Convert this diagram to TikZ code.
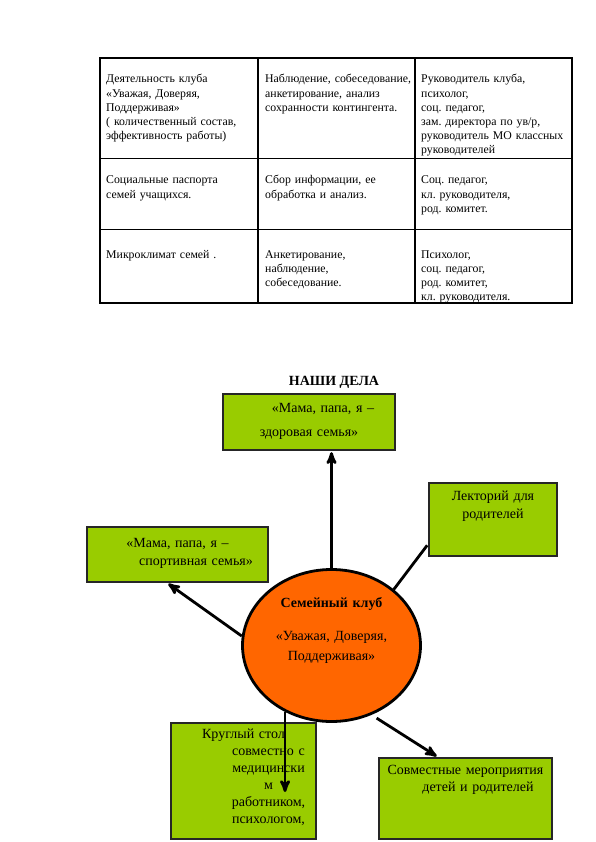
\documentclass[tikz,border=0pt]{standalone}
\usepackage{fontspec}
\setmainfont{Liberation Serif}
\usetikzlibrary{arrows, shapes, positioning}
\definecolor{clubgreen}{HTML}{99CC00}
\definecolor{cluborange}{HTML}{FF6600}
\frenchspacing
\tikzset{
		cell/.style={anchor=base west, inner sep=0pt, text width=150pt, align=left,
			font=\fontsize{11.8}{14.2}\selectfont},
		green box/.style={draw=black!85, line width=2.4pt, fill=clubgreen, inner sep=0pt},
		box text/.style={anchor=base, inner sep=0pt, text width=220pt, align=center,
			font=\fontsize{14}{#1}\selectfont},
		club state/.style={ellipse, draw, line width=2.8pt, fill=cluborange, inner sep=0pt,
			minimum width=178pt, minimum height=152pt}
	}
\begin{document}
\begin{tikzpicture}[x=1pt, y=-1pt, >=stealth', shorten >=1pt]
				\useasboundingbox (0,0) rectangle (595,842);

				% table
				\draw[line width=1.6pt] (100,58) rectangle (572,303);
				\draw[line width=1.3pt] (258,58) -- (258,303) (415,58) -- (415,303);
				\draw[line width=0.8pt] (100,158) -- (572,158) (100,229) -- (572,229);

				\node[cell] (a1) at (106,83) {Деятельность клуба\\«Уважая, Доверяя,\\Поддерживая»\\( количественный состав,\\эффективность работы)};
				\node[cell] (a2) at (265,83) {Наблюдение, собеседование,\\анкетирование, анализ\\сохранности контингента.};
				\node[cell] (a3) at (421,83) {Руководитель клуба,\\психолог,\\соц. педагог,\\зам. директора по ув/р,\\руководитель МО классных\\руководителей};
				\node[cell] (b1) at (106,184) {Социальные паспорта\\семей учащихся.};
				\node[cell] (b2) at (265,184) {Сбор информации, ее\\обработка и анализ.};
				\node[cell] (b3) at (421,184) {Соц. педагог,\\кл. руководителя,\\род. комитет.};
				\node[cell] (c1) at (106,258) {Микроклимат семей .};
				\node[cell] (c2) at (265,258) {Анкетирование,\\наблюдение,\\собеседование.};
				\node[cell] (c3) at (421,258) {Психолог,\\соц. педагог,\\род. комитет,\\кл. руководителя.};

				% diagram
				\node[anchor=base, font=\fontsize{14}{17}\selectfont\bfseries] (title) at (334,385) {НАШИ ДЕЛА};

				\node[green box, minimum width=172pt, minimum height=56pt] (health) at (309,422) {};
				\node[green box, minimum width=128pt, minimum height=73pt] (lecture) at (493,519.5) {};
				\node[green box, minimum width=181pt, minimum height=55pt] (sport) at (177.5,554.5) {};
				\node[green box, minimum width=145pt, minimum height=116pt] (round) at (243.5,781) {};
				\node[green box, minimum width=173pt, minimum height=81pt] (joint) at (465.5,798.5) {};
				\node[club state] (club) at (331.5,645.5) {};

				\node[box text=24pt] (healthtxt) at (309,412.5) {\hspace*{28pt}«Мама, папа, я –\\здоровая семья»};
				\node[box text=18pt] (lecturetxt) at (493,500.5) {Лекторий для\\родителей};
				\node[box text=18pt] (sporttxt) at (177.5,547.5) {«Мама, папа, я –\\\hspace*{37pt}спортивная семья»};
				\node[box text=20pt] (clubtxt) at (331.5,607.5) {\textbf{Семейный клуб}\\[13pt]«Уважая, Доверяя,\\Поддерживая»};
				\node[box text=17pt] (roundtxt) at (243.5,738.5) {Круглый стол\\\hspace*{50pt}совместно с\\\hspace*{50pt}медицински\\\hspace*{50pt}м\\\hspace*{50pt}работником,\\\hspace*{50pt}психологом,};
				\node[box text=17pt] (jointtxt) at (465.5,774.5) {Совместные мероприятия\\\hspace*{25pt}детей и родителей};

				\coordinate (roundend) at (285,793);

				\path[->, line width=2.8pt] (club.north) edge (club.north |- health.south);
				\path[->, line width=2.8pt] (club.174) edge ([xshift=-10pt]sport.south);
				\path[-, line width=2.8pt] (club.42) edge ([yshift=-25pt]lecture.west);
				\path[->, line width=2.8pt] (club.235) edge (club.235 |- roundend);
				\path[->, line width=2.8pt, shorten <=6pt] (club.300) edge ([xshift=-28pt]joint.north);
			\end{tikzpicture}
\end{document}
